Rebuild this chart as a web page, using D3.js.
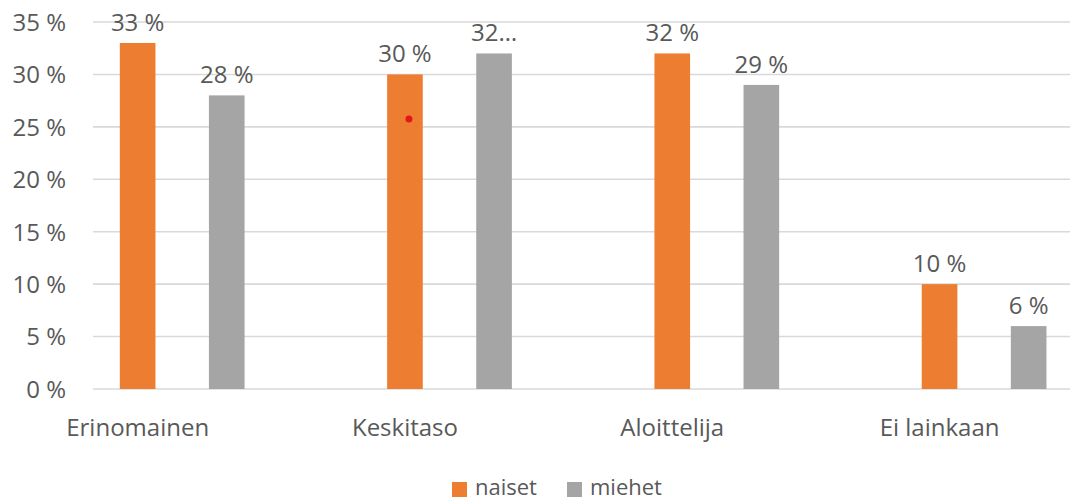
<!DOCTYPE html>
<html><head><meta charset="utf-8">
<script src="https://cdn.jsdelivr.net/npm/d3@7"></script>
<style>body{margin:0;background:#fff;} svg{display:block;font-family:"Open Sans",sans-serif;}</style>
</head><body>
<svg id="chart" width="1070" height="502"></svg>
<script>
const categories = ["Erinomainen", "Keskitaso", "Aloittelija", "Ei lainkaan"];
const seriesNames = ["naiset", "miehet"];
const naiset = [33, 30, 32, 10];
const miehet = [28, 32, 29, 6];
const miehetLabels = ["28 %", "32…", "29 %", "6 %"];
const naisetLabels = ["33 %", "30 %", "32 %", "10 %"];
const yTicks = [0, 5, 10, 15, 20, 25, 30, 35];
const marker = {category: "Keskitaso", series: "naiset", value: 25.75};

const colors = {naiset: "#ED7D31", miehet: "#A5A5A5"};
const textColor = "#595959";
const svg = d3.select("#chart");
const plotLeft = 93, plotRight = 1070;
const y = d3.scaleLinear().domain([0, 35]).range([389, 22]);
const x0 = d3.scaleBand().domain(categories).range([4, 4 + 4 * 267.3]);
const bw = x0.bandwidth();
const x1 = d3.scaleBand().domain(seriesNames).range([bw / 3, bw]).paddingInner(0.6).paddingOuter(0.3);

// gridlines
svg.append("g").selectAll("line").data(yTicks).join("line")
  .attr("x1", plotLeft).attr("x2", plotRight)
  .attr("y1", d => y(d)).attr("y2", d => y(d))
  .attr("stroke", "#d9d9d9").attr("stroke-width", 1.6);

// y axis labels
const yAxis = d3.axisLeft(y).tickValues(yTicks).tickSize(0).tickPadding(0).tickFormat(d => d + " %");
const yg = svg.append("g").attr("transform", "translate(66,0)").call(yAxis);
yg.select(".domain").remove();
yg.selectAll("text").attr("fill", textColor).attr("font-size", 24).attr("font-family", "Open Sans").attr("dy", "0.35em");

// bars
const data = [];
categories.forEach((c, i) => {
  data.push({cat: c, s: "naiset", v: naiset[i], label: naisetLabels[i]});
  data.push({cat: c, s: "miehet", v: miehet[i], label: miehetLabels[i]});
});
svg.append("g").selectAll("rect").data(data).join("rect")
  .attr("x", d => x0(d.cat) + x1(d.s))
  .attr("width", x1.bandwidth())
  .attr("y", d => y(d.v))
  .attr("height", d => y(0) - y(d.v))
  .attr("fill", d => colors[d.s]);

// data labels
svg.append("g").selectAll("text").data(data).join("text")
  .attr("x", d => x0(d.cat) + x1(d.s) + x1.bandwidth() / 2)
  .attr("y", d => y(d.v) - 12)
  .attr("text-anchor", "middle")
  .attr("fill", textColor).attr("font-size", 24)
  .text(d => d.label);

// category labels
const xAxis = d3.axisBottom(x0).tickSize(0).tickPadding(0);
const xg = svg.append("g").attr("transform", "translate(0,436)").call(xAxis);
xg.select(".domain").remove();
xg.selectAll("text").attr("fill", textColor).attr("font-size", 24).attr("font-family", "Open Sans").attr("dy", 0);

// marker dot
svg.append("circle")
  .attr("cx", x0(marker.category) + x1(marker.series) + x1.bandwidth() / 2 + 4)
  .attr("cy", y(marker.value))
  .attr("r", 3.5).attr("fill", "#e8141b");

// legend
const legendItems = [{name: "naiset", x: 452}, {name: "miehet", x: 567}];
const lg = svg.append("g");
legendItems.forEach(it => {
  lg.append("rect").attr("x", it.x).attr("y", 482).attr("width", 15).attr("height", 15).attr("fill", colors[it.name]);
  lg.append("text").attr("x", it.x + 23).attr("y", 495).attr("fill", textColor).attr("font-size", 22).text(it.name);
});
</script>
</body></html>
